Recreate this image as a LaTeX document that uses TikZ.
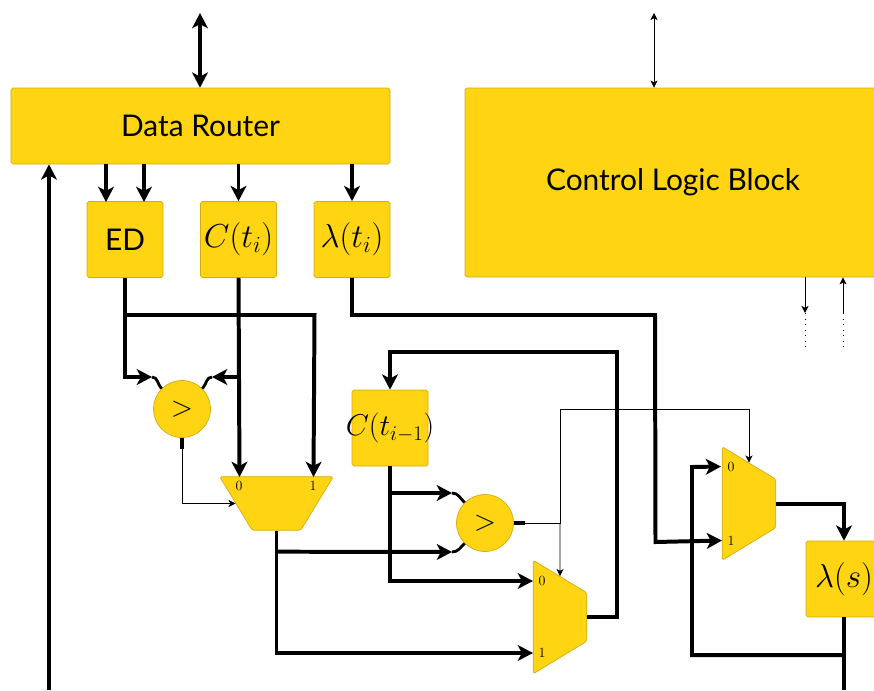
\documentclass[tikz,border=0pt]{standalone}
\usepackage{fontspec}
\setmainfont{Lato}
\usetikzlibrary{arrows.meta,shapes.geometric}
\definecolor{blockfill}{HTML}{FFD412}
\definecolor{blockline}{HTML}{D2AC14}
\newcommand{\mathlabel}[1]{\scalebox{1.14}{$#1$}}
\tikzset{
  block/.style={draw=blockline,fill=blockfill,line width=0.6pt,rounded corners=1.5pt,inner sep=0pt,minimum width=22.8mm,minimum height=22.8mm,font=\fontsize{25.5}{30}\selectfont},
  cmp/.style={draw=blockline,fill=blockfill,line width=0.6pt,circle,inner sep=0pt,minimum size=17.1mm,font=\fontsize{25}{30}\selectfont},
  mux/.style={draw=blockline,fill=blockfill,line width=0.6pt,rounded corners=1.5pt,trapezium,trapezium stretches=true,trapezium angle=62,inner sep=0pt,minimum width=34.1mm,minimum height=16.1mm},
  pin/.style={inner sep=0pt,font=\fontsize{12}{14}\selectfont},
  bus/.style={line width=3.4pt,-{Stealth[length=13pt,width=13.5pt,inset=3.5pt]}},
  busline/.style={line width=3.4pt},
  stub/.style={line width=2.4pt},
  wire/.style={line width=0.7pt,-{Stealth[length=6pt,width=6pt,inset=1.5pt]}},
  wireline/.style={line width=0.7pt},
}
\begin{document}
\begin{tikzpicture}[x=0.3mm,y=-0.3mm]
  \clip[use as bounding box] (0,0) rectangle (874,690);
  % blocks
  \node[block,minimum width=113.7mm] (router) at (200.5,126) {Data Router};
  \node[block,minimum width=124.8mm,minimum height=56.7mm] (control) at (673,182.5) {Control Logic Block};
  \node[block] (ed) at (125,239.5) {ED};
  \node[block] (ct) at (238.5,239.5) {\makebox[0pt]{\mathlabel{C(t_i)}}};
  \node[block] (lt) at (352,239.5) {\makebox[0pt]{\mathlabel{\lambda(t_i)}}};
  \node[block] (cprev) at (390,428) {\makebox[0pt]{\scalebox{1.03}{$C(t_{i-1})$}}};
  \node[block] (ls) at (844,579) {\mathlabel{\lambda(s)}};
  \node[cmp] (cmpa) at (182,409) {$>$};
  \node[cmp] (cmpb) at (485,523) {$>$};
  \node[mux,rotate=180] (muxa) at (276.5,503.5) {\phantom{0}};
  \node[mux,rotate=-90] (muxb) at (560,617) {\phantom{0}};
  \node[mux,rotate=-90] (muxc) at (749,503.5) {\phantom{0}};
  \node[pin] (muxazero) at (239,486) {$0$};
  \node[pin] (muxaone) at (313,486) {$1$};
  \node[pin] (muxbzero) at (542,581) {$0$};
  \node[pin] (muxbone) at (542,653) {$1$};
  \node[pin] (muxczero) at (731,467) {$0$};
  \node[pin] (muxcone) at (731,541) {$1$};

  % free ends and bends
  \coordinate (hosttop) at (200,13);
  \coordinate (ctrltop) at (654,13);
  \coordinate (feedin) at (49,690);
  \coordinate (edl) at (106,202);
  \coordinate (edr) at (144,202);
  \coordinate (ctrlout) at (805,313);
  \coordinate (ctrlin) at (843,313);
  \coordinate (ctrloutend) at (805,348);
  \coordinate (ctrlinend) at (843,348);
  \coordinate (cmpal) at (152,377);
  \coordinate (cmpar) at (212,377);
  \coordinate (cmpbu) at (452,493);
  \coordinate (cmpbd) at (452,552);
  \coordinate (muxatop) at (239.5,477);
  \coordinate (muxatopr) at (313.5,477);
  \coordinate (muxbin) at (533,581);
  \coordinate (muxbinb) at (533,653);
  \coordinate (muxcin) at (721,466.5);
  \coordinate (muxcinb) at (722,540.5);
  \coordinate (edsplit) at (125,315);
  \coordinate (edturn) at (314.5,315);
  \coordinate (ltbend) at (655,315);
  \coordinate (ltdown) at (655.5,542);
  \coordinate (muxbturn) at (617,352);
  \coordinate (lsbranch) at (844,655);
  \coordinate (lsturn) at (692,467);
  \coordinate (lsend) at (844,690);
  \coordinate (selsplit) at (560,523);
  \coordinate (seltop) at (560,409);

  % data path
  \draw[line width=3.4pt,{Stealth[length=13pt,width=13.5pt,inset=3.5pt]}-{Stealth[length=13pt,width=13.5pt,inset=3.5pt]}] (hosttop) -- (router.north -| hosttop);
  \draw[bus] (feedin) -- (router.south -| feedin);
  \draw[bus] (router.south -| edl) -- (edl);
  \draw[bus] (router.south -| edr) -- (edr);
  \draw[bus] (router.south -| ct.north) -- (ct.north);
  \draw[bus] (router.south -| lt.north) -- (lt.north);
  \draw[bus] (ed.south) |- (cmpal);
  \draw[bus] (ct.south |- cmpal) -- (cmpar);
  \draw[stub] (cmpal) to[out=0,in=135] (cmpa.135);
  \draw[stub] (cmpar) to[out=180,in=45] (cmpa.45);
  \draw[bus] (edsplit) -- (edturn) -- (muxatopr);
  \draw[bus] (ct.south) -- (muxatop);
  \draw[busline] (cmpa.south) -- ++(0,11) coordinate (cmpaout);
  \draw[wire] (cmpaout) |- (muxa.east);
  \draw[busline] (muxa.north) -- ++(0,21) coordinate (muxaout);
  \draw[bus] (muxaout) -- (cmpbd);
  \draw[bus] (muxaout) |- (muxbinb);
  \draw[stub] (cmpbu) to[out=0,in=135] (cmpb.135);
  \draw[stub] (cmpbd) to[out=0,in=225] (cmpb.225);
  \draw[bus] (cprev.south |- cmpbu) -- (cmpbu);
  \draw[bus] (cprev.south) |- (muxbin);
  \draw[bus] (muxb.north) -| (muxbturn) -| (cprev.north);
  \draw[bus] (lt.south) |- (ltbend) -- (ltdown) -- (muxcinb);
  \draw[bus] (muxc.north) -| (ls.north);
  \draw[busline] (ls.south) -- (lsend);
  \draw[bus] (lsbranch) -| (lsturn) -- (muxcin);

  % select lines
  \draw[busline] (cmpb.east) -- ++(11,0) coordinate (cmpbout);
  \draw[wireline] (cmpbout) -- (selsplit) -- (seltop);
  \draw[wire] (selsplit) -- (muxb.west);
  \draw[wire] (seltop) -| (muxc.west);

  % control
  \draw[wire,{Stealth[length=6pt,width=6pt,inset=1.5pt]}-{Stealth[length=6pt,width=6pt,inset=1.5pt]}] (ctrltop) -- (control.north -| ctrltop);
  \draw[wire] (control.south -| ctrlout) -- (ctrlout);
  \draw[wire] (ctrlin) -- (control.south -| ctrlin);
  \draw[wireline,loosely dotted] (ctrlout) -- (ctrloutend);
  \draw[wireline,loosely dotted] (ctrlin) -- (ctrlinend);
\end{tikzpicture}
\end{document}
